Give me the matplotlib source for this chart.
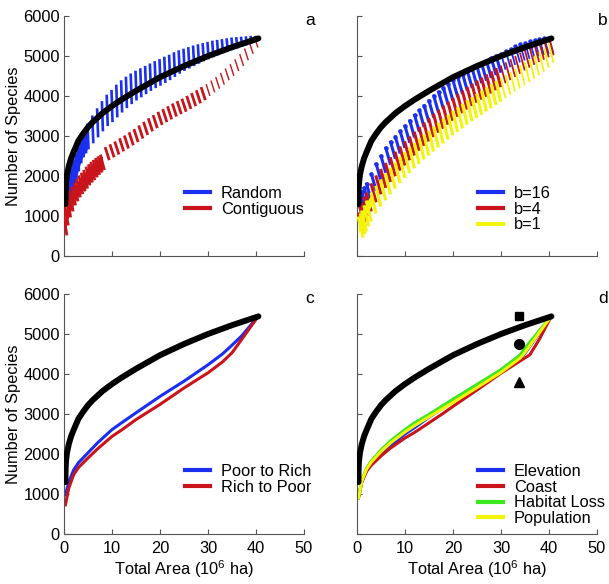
import matplotlib
matplotlib.use('Agg')
import matplotlib.pyplot as plt
from matplotlib.lines import Line2D

plt.rcParams['font.family'] = ['Liberation Sans', 'DejaVu Sans']
plt.rcParams['mathtext.fontset'] = 'custom'
plt.rcParams['mathtext.rm'] = 'Liberation Sans'
plt.rcParams['mathtext.it'] = 'Liberation Sans:italic'
plt.rcParams['font.size'] = 11.8

XTICKS = [0, 10, 20, 30, 40, 50]
YTICKS = [0, 1000, 2000, 3000, 4000, 5000, 6000]

# species-area curve for the whole region (black, in every panel)
AREA_ALL = [0.3, 0.32, 0.4, 0.6, 1, 1.5, 2, 3, 4, 5, 6, 8, 10, 12, 15, 20, 25, 30, 35, 40.5]
SPECIES_ALL = [1300, 1550, 1800, 2020, 2250, 2450, 2600, 2880, 3060, 3220, 3350, 3570,
               3750, 3910, 4130, 4470, 4750, 5000, 5220, 5440]

# panel a: random vs contiguous selection (ranges of simulated runs)
RAND_X = [0.5, 1, 1.5, 2, 2.5, 3, 3.5, 4, 4.5, 5] + [6, 7, 8, 9, 10, 11, 12, 13, 14, 15, 16, 17, 18,
          19, 20, 21, 22, 23, 24, 25, 26, 27, 28, 29, 30, 31, 32, 33, 34, 35, 36, 37, 38, 39, 40]
RAND_LO = [1250, 1350, 1500, 1700, 1900, 2150, 2350, 2500, 2600, 2700,
           2850, 3000, 3150, 3280, 3380, 3500, 3620, 3730, 3830, 3920, 4000, 4080, 4160, 4230,
           4290, 4360, 4430, 4510, 4590, 4660, 4720, 4780, 4840, 4900, 4950, 5000, 5050, 5100,
           5140, 5180, 5220, 5260, 5300, 5340, 5380]
RAND_HI = [1850, 2100, 2250, 2400, 2550, 2700, 2850, 3000, 3150, 3280,
           3480, 3660, 3840, 4000, 4120, 4250, 4360, 4450, 4530, 4600, 4660, 4720, 4780, 4840,
           4890, 4950, 5000, 5060, 5110, 5150, 5190, 5230, 5260, 5290, 5320, 5350, 5370, 5390,
           5410, 5430, 5440, 5450, 5460, 5470, 5470]

CONTIG_X = [0.2, 0.5, 1, 1.5, 2, 2.5, 3, 3.5, 4, 4.5, 5, 5.5, 6, 6.5, 7, 7.5, 8] + [
            9, 10, 11, 12, 13, 14, 15, 16, 17, 18, 19, 20, 21, 22, 23, 24, 25, 26, 27, 28,
            29, 30, 31, 32, 33, 34, 35, 36, 37, 38, 39, 40]
CONTIG_LO = [550, 800, 1000, 1150, 1300, 1400, 1500, 1580, 1650, 1720, 1800, 1870, 1930, 2000,
             2060, 2120, 2180,
             2430, 2500, 2570, 2650, 2720, 2800, 2880, 2970, 3060, 3150, 3230, 3310, 3380, 3450,
             3520, 3580, 3640, 3710, 3780, 3850, 3930, 4020, 4110, 4200, 4300, 4410, 4520, 4640,
             4770, 4910, 5070, 5230]
CONTIG_HI = [1100, 1250, 1450, 1600, 1700, 1800, 1900, 1980, 2050, 2120, 2200, 2260, 2320, 2370,
             2420, 2460, 2500,
             2690, 2760, 2830, 2910, 2980, 3060, 3140, 3230, 3320, 3410, 3490, 3570, 3640, 3710,
             3780, 3840, 3900, 3970, 4040, 4110, 4190, 4280, 4370, 4460, 4560, 4670, 4780, 4900,
             5030, 5170, 5330, 5470]
DENSE_RAND = 10   # first runs of each series overlap into a solid band
DENSE_CONTIG = 17

# panel b: block sizes, top of each streak of runs
BLOCK_X = [0.3, 0.7, 1, 1.5, 2, 3, 4, 5, 6, 7, 8, 9, 10, 11, 12, 13, 14, 15, 16, 17, 18, 19, 20,
           21, 22, 23, 24, 25, 26, 27, 28, 29, 30, 31, 32, 33, 34, 35, 36, 37, 38, 39, 40]
B16_TOP = [1350, 1500, 1600, 1700, 1800, 2050, 2300, 2500, 2700, 2850, 2980, 3120, 3250, 3380,
           3520, 3640, 3760, 3880, 4000, 4100, 4200, 4300, 4390, 4470, 4550, 4620, 4680, 4740,
           4800, 4870, 4940, 5000, 5060, 5120, 5180, 5240, 5290, 5330, 5370, 5400, 5430, 5450, 5460]
B4_TOP = [1050, 1200, 1300, 1450, 1550, 1780, 1980, 2140, 2290, 2430, 2570, 2700, 2830, 2950,
          3070, 3190, 3300, 3410, 3520, 3620, 3720, 3820, 3920, 4010, 4100, 4190, 4270, 4350,
          4420, 4500, 4580, 4660, 4740, 4820, 4900, 4980, 5060, 5130, 5200, 5270, 5330, 5390, 5440]
B1_TOP = [950, 1030, 1100, 1230, 1350, 1550, 1720, 1880, 2030, 2170, 2310, 2440, 2560, 2680,
          2790, 2900, 3000, 3100, 3200, 3300, 3400, 3500, 3590, 3680, 3770, 3860, 3940, 4020,
          4100, 4180, 4260, 4340, 4420, 4500, 4580, 4660, 4740, 4820, 4900, 4990, 5080, 5180, 5300]
B1_LOW_START = [550, 700, 800, 950, 1050, 1250]  # bottom of the dense yellow band, x <= 3

# panel c: ordering by richness
C_X_POOR = [0.3, 1, 2, 3, 5, 7, 10, 12, 15, 20, 25, 30, 33, 35, 37, 40.5]
C_Y_POOR = [980, 1300, 1600, 1780, 2030, 2280, 2610, 2780, 3030, 3440, 3820, 4230, 4500, 4720, 4950, 5450]
C_X_RICH = [0.3, 1, 2, 3, 5, 7, 10, 12, 15, 20, 25, 30, 33, 35, 38, 40.5]
C_Y_RICH = [730, 1150, 1480, 1660, 1900, 2130, 2440, 2600, 2860, 3240, 3650, 4030, 4300, 4530, 5030, 5450]

# panel d: ordering by threat
D_X = [0.3, 1, 2, 3, 5, 7, 10, 12, 15, 20, 25, 30, 34, 35, 40.5]
D_Y_ELEV = [900, 1300, 1580, 1750, 2000, 2200, 2500, 2660, 2920, 3320, 3700, 4080, 4400, 4520, 5450]
D_X_COAST = [0.3, 1, 2, 3, 5, 7, 10, 12, 15, 18, 20, 25, 30, 33, 36, 38, 40.5]
D_Y_COAST = [900, 1300, 1570, 1720, 1950, 2150, 2400, 2540, 2780, 3020, 3190, 3600, 4020, 4250,
             4480, 4870, 5450]
D_Y_HAB = [900, 1350, 1650, 1830, 2100, 2330, 2610, 2780, 2990, 3370, 3740, 4110, 4480, 4650, 5450]
D_Y_POP = [900, 1320, 1620, 1800, 2060, 2280, 2550, 2710, 2930, 3290, 3660, 4040, 4400, 4540, 5450]
MARK_X = [33.8, 33.8, 33.8]
MARK_Y = [5450, 4740, 3790]
MARK_SHAPES = ['s', 'o', '^']

BLUE = '#1a2ff0'
RED = '#c8141a'
YELLOW = '#f4f40a'
GREEN = '#3ce81e'


def style_axes(ax, letter, xlab, ylab):
    ax.set_xlim(0, 50)
    ax.set_ylim(0, 6000)
    ax.set_xticks(XTICKS)
    ax.set_yticks(YTICKS)
    ax.spines['top'].set_visible(False)
    ax.spines['right'].set_visible(False)
    for s in ['left', 'bottom']:
        ax.spines[s].set_color('#555555')
        ax.spines[s].set_linewidth(0.8)
    ax.tick_params(axis='both', direction='in', length=3.5, width=0.8, color='#555555')
    ax.tick_params(axis='x', pad=5)
    ax.tick_params(axis='y', pad=3)
    if xlab:
        ax.set_xlabel('Total Area (10$^6$ ha)')
        ax.xaxis.set_label_coords(0.5, -0.1)
        ax.xaxis.label.set_va('top')
    else:
        ax.set_xticklabels([])
    if ylab:
        ax.set_ylabel('Number of Species')
        ax.yaxis.set_label_coords(-0.18, 0.5)
    else:
        ax.set_yticklabels([])
    ax.text(1.025, 0.98, letter, transform=ax.transAxes, ha='center', va='center',
            fontsize=12.5, clip_on=False)


def add_legend(ax, labels, colors):
    handles = [Line2D([], [], color=c, lw=3) for c in colors]
    ax.legend(handles, labels, loc='upper left', bbox_to_anchor=(0.503, 0.293),
              frameon=False, borderpad=0, borderaxespad=0, handlelength=1.55,
              handletextpad=0.65, labelspacing=0.05)


def draw_black(ax):
    ax.plot(AREA_ALL, SPECIES_ALL, color='black', lw=4.3, solid_capstyle='round', zorder=5)


fig = plt.figure(figsize=(6.09, 5.84), dpi=100)
ax_a = fig.add_axes([0.1051, 0.5616, 0.3941, 0.411])
ax_b = fig.add_axes([0.5862, 0.5616, 0.3941, 0.411])
ax_c = fig.add_axes([0.1051, 0.0856, 0.3941, 0.411])
ax_d = fig.add_axes([0.5862, 0.0856, 0.3941, 0.411])

# a
ax_a.fill_between(RAND_X[:DENSE_RAND], RAND_LO[:DENSE_RAND], RAND_HI[:DENSE_RAND],
                  color=BLUE, lw=0, zorder=2)
for x, lo, hi in zip(RAND_X, RAND_LO, RAND_HI):
    ax_a.plot([x - 0.1, x + 0.1], [hi, lo], color=BLUE, lw=1.9, zorder=2)
ax_a.fill_between(CONTIG_X[:DENSE_CONTIG], CONTIG_LO[:DENSE_CONTIG], CONTIG_HI[:DENSE_CONTIG],
                  color=RED, lw=0, zorder=3)
for x, lo, hi in zip(CONTIG_X, CONTIG_LO, CONTIG_HI):
    w = 2.0 if x < 30 else 1.0
    ax_a.plot([x - 0.35, x + 0.35], [hi, lo], color=RED, lw=w, zorder=3)
draw_black(ax_a)
style_axes(ax_a, 'a', False, True)
add_legend(ax_a, ['Random', 'Contiguous'], [BLUE, RED])

# b
ax_b.fill_between(BLOCK_X[:6], B1_LOW_START, B1_TOP[:6], color=YELLOW, lw=0, zorder=4)
for tops, col, drop, z in [(B16_TOP, BLUE, 380, 2), (B4_TOP, RED, 400, 3), (B1_TOP, YELLOW, 450, 4)]:
    for x, top in zip(BLOCK_X, tops):
        w = 2.2 if x < 30 else 1.3
        ax_b.plot([x, x + 0.9], [top, top - drop], color=col, lw=w, zorder=z)
        if col == BLUE:
            ax_b.plot([x], [top], 'o', color=col, ms=3.2, mew=0, zorder=z)
draw_black(ax_b)
style_axes(ax_b, 'b', False, False)
add_legend(ax_b, ['b=16', 'b=4', 'b=1'], [BLUE, RED, YELLOW])

# c
ax_c.plot(C_X_POOR, C_Y_POOR, color=BLUE, lw=2.2)
ax_c.plot(C_X_RICH, C_Y_RICH, color=RED, lw=2.2)
draw_black(ax_c)
style_axes(ax_c, 'c', True, True)
add_legend(ax_c, ['Poor to Rich', 'Rich to Poor'], [BLUE, RED])

# d
ax_d.plot(D_X, D_Y_ELEV, color=BLUE, lw=2.2)
ax_d.plot(D_X_COAST, D_Y_COAST, color=RED, lw=2.2)
ax_d.plot(D_X, D_Y_HAB, color=GREEN, lw=2.2)
ax_d.plot(D_X, D_Y_POP, color=YELLOW, lw=2.2)
draw_black(ax_d)
for mx, my, m in zip(MARK_X, MARK_Y, MARK_SHAPES):
    ax_d.plot([mx], [my], marker=m, color='black', ms=7 if m != 's' else 6, zorder=6)
style_axes(ax_d, 'd', True, False)
add_legend(ax_d, ['Elevation', 'Coast', 'Habitat Loss', 'Population'],
           [BLUE, RED, GREEN, YELLOW])

fig.savefig('out.png', dpi=100)
